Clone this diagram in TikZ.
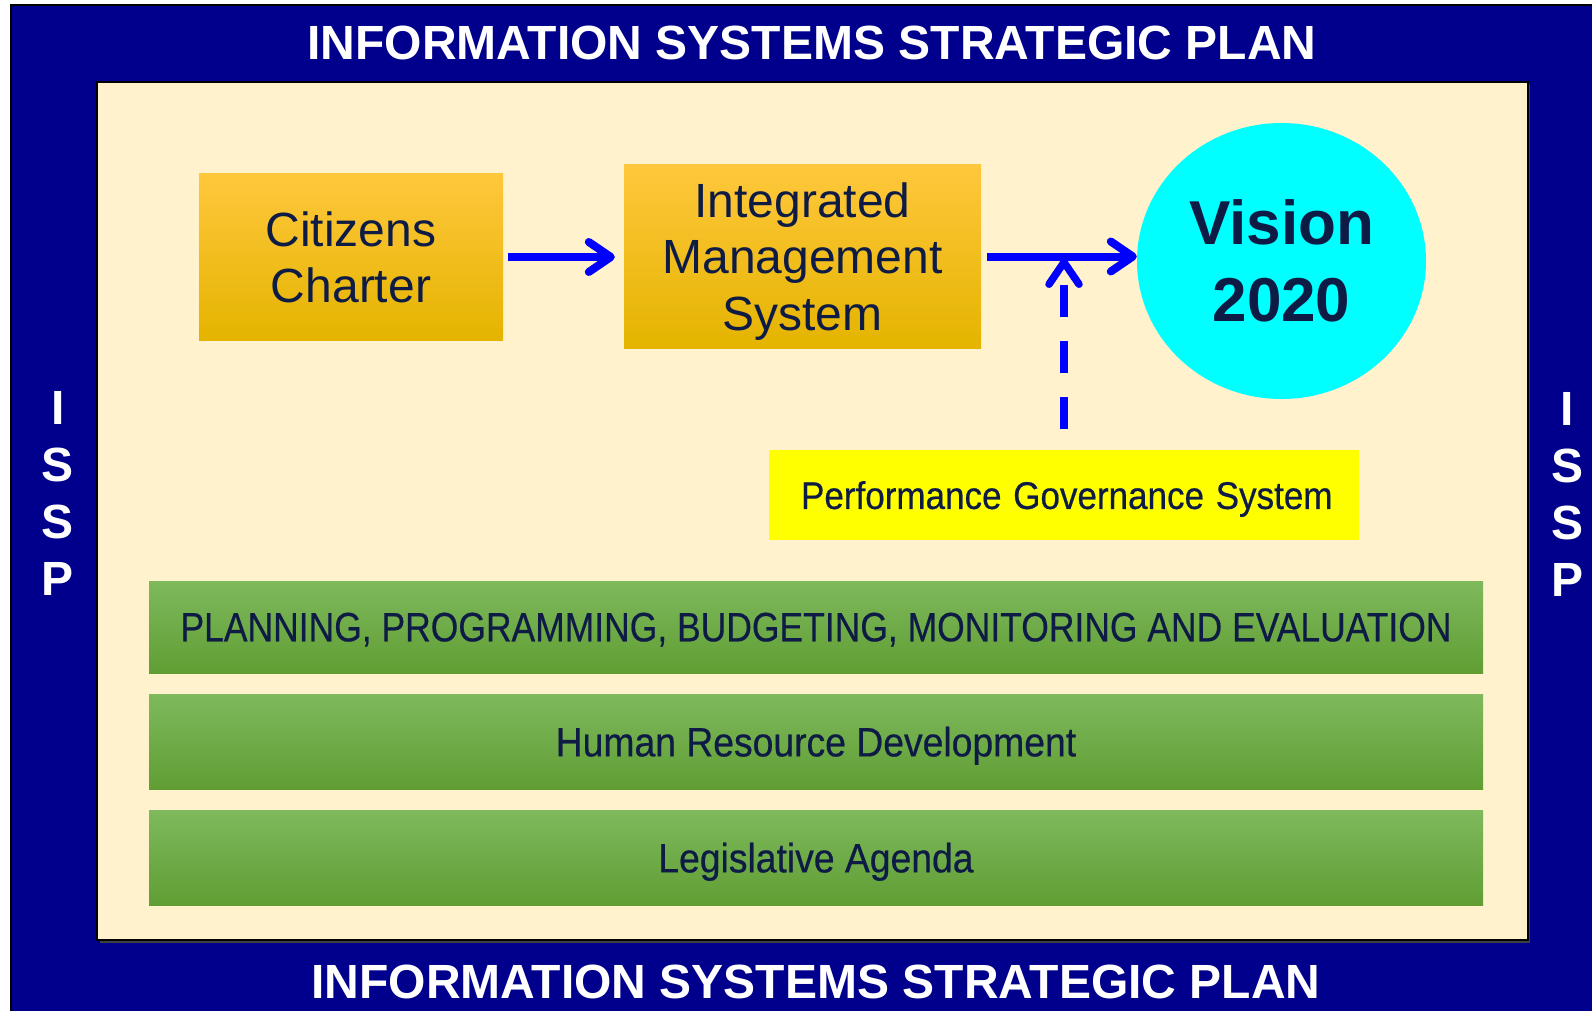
\documentclass[tikz,border=0pt]{standalone}
\usepackage{fontspec}
\setmainfont{Liberation Sans}
\newfontfamily\narrowfont[FakeBold=0.5]{Liberation Sans}
\usetikzlibrary{arrows.meta,shapes.geometric}
\definecolor{navybg}{RGB}{0,0,140}
\definecolor{cream}{RGB}{255,242,204}
\definecolor{txt}{RGB}{14,27,69}
\definecolor{ortop}{RGB}{255,199,60}
\definecolor{ormid}{RGB}{255,200,0}
\definecolor{orbot}{RGB}{228,180,0}
\definecolor{grtop}{RGB}{126,185,92}
\definecolor{grmid}{RGB}{112,176,66}
\definecolor{grbot}{RGB}{96,158,52}
\definecolor{arrblue}{RGB}{0,0,255}
\definecolor{vcyan}{RGB}{0,255,255}
\definecolor{vyellow}{RGB}{255,255,0}
\newcommand{\narrowtext}[2][0.91]{\scalebox{#1}[1]{#2}}
\begin{document}
\begin{tikzpicture}[x=1pt,y=-1pt,
  title/.style={text=white,inner sep=0pt,font=\fontsize{48}{48}\selectfont\bfseries},
  issp/.style={text=white,inner sep=0pt,align=center,font=\fontsize{48}{57}\selectfont\bfseries},
  obox/.style={rectangle,inner sep=0pt,top color=ortop,middle color=ormid,bottom color=orbot,text=txt,align=center,text depth=0pt,font=\fontsize{48}{56.7}\selectfont},
  gbox/.style={rectangle,inner sep=0pt,top color=grtop,middle color=grmid,bottom color=grbot,text=txt,text depth=0pt,minimum width=1334pt,font=\narrowfont\fontsize{41}{41}\selectfont},
  arr/.style={draw=arrblue,line width=8pt,-{Straight Barb[length=22pt,width=30pt,round]}}
]
\useasboundingbox (0,0) rectangle (1592,1011);
\fill[white] (0,0) rectangle (1592,1011);
\draw[black,line width=2pt,fill=navybg] (11,5) rectangle (1600,1020);
\fill[black!75] (99.5,84.5) rectangle (1530,942.5);
\draw[black,line width=2pt,fill=cream] (97,82) rectangle (1528,940);

\node[title,anchor=base] (t1) at (812,60) {INFORMATION SYSTEMS STRATEGIC PLAN};
\node[title,anchor=base] (t2) at (816,998) {INFORMATION SYSTEMS STRATEGIC PLAN};
\node[issp] (il) at (58,493) {I\\S\\S\\P};
\node[issp] (ir) at (1567,494) {I\\S\\S\\P};

\node[obox,minimum width=304pt,minimum height=166pt] (cc) at (351,257) {Citizens\\Charter};
\node[obox,minimum width=357pt,minimum height=183pt] (ims) at (802.5,256.5) {Integrated\\Management\\System};
\node[ellipse,inner sep=0pt,fill=vcyan,minimum width=289pt,minimum height=276pt,text=txt,align=center,
      font=\fontsize{62}{77}\selectfont\bfseries] (vision) at (1281.5,261) {Vision\\2020};
\node[rectangle,fill=vyellow,minimum width=590pt,minimum height=90pt,inner xsep=32pt,inner ysep=0pt,
      text width=526pt,align=left,text depth=0pt,text=txt,font=\narrowfont\fontsize{38.5}{38.5}\selectfont] (pgs) at (1064,495) {\narrowtext{Performance Governance System}};

\node[gbox,minimum height=92pt] (g1) at (816,627) {\narrowtext[0.865]{PLANNING, PROGRAMMING, BUDGETING, MONITORING AND EVALUATION}};
\node[gbox,minimum height=95pt] (g2) at (816,741.5) {\narrowtext{Human Resource Development}};
\node[gbox,minimum height=95pt] (g3) at (816,857.5) {\narrowtext{Legislative Agenda}};

\draw[arr,shorten <=5pt,shorten >=9pt] (cc.east) -- (cc.east -| ims.west);
\draw[arr,shorten <=6pt] (ims.east) -- (ims.east -| vision.west);
\coordinate (jn) at (pgs.north |- ims.east);
\coordinate (dstart) at ([yshift=21pt]pgs.north);
\draw[arr,line width=7.5pt,dash pattern=on 32pt off 24pt] (dstart) -- ([yshift=-2pt]jn);
\end{tikzpicture}
\end{document}
